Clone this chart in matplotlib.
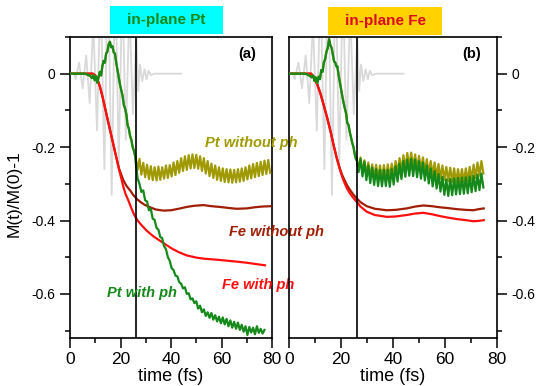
import numpy as np
import matplotlib
matplotlib.use("Agg")
import matplotlib.pyplot as plt
from matplotlib.patches import Rectangle
from matplotlib.ticker import MultipleLocator

plt.rcParams["font.family"] = ["Liberation Sans", "DejaVu Sans"]
plt.rcParams["axes.unicode_minus"] = False

OLIVE = "#a09a00"
GREEN = "#15891a"
BROWN = "#a11e05"
RED = "#ff1010"
GRAY = "#d9d9d9"

T_PULSE_OFF = 26.0  # vertical marker (fs)

# laser pulse, read extremum by extremum
PULSE_T = [0, 1.5, 2.2, 3.6, 5.0, 6.4, 7.8, 9.2, 10.7, 12.1, 13.6, 15.0, 16.5, 17.9,
           19.3, 20.7, 22.1, 23.5, 24.9, 26.3, 27.0, 27.7, 28.6, 29.5, 30.3, 31.1,
           32.0, 33.5, 44.0]
PULSE_V = [0, 0, -0.015, 0.03, -0.04, 0.05, -0.08, 0.14, -0.155, 0.25, -0.26, 0.32,
           -0.33, 0.30, -0.25, 0.25, -0.18, 0.18, -0.11, 0.10, -0.047, 0.025, -0.02,
           0.012, -0.015, 0.008, -0.004, 0, 0]

# ---- panel (a): in-plane Pt ----
A_PT_EARLY_T = [0, 4, 6, 7, 8, 8.7, 9.3, 9.8, 10.3, 10.8, 11.3, 11.8, 12.3, 12.8, 13.3,
                13.8, 14.3, 14.8, 15.3, 15.8, 16.3, 16.8, 17.3, 17.8, 18.3, 18.8, 19.3,
                19.8, 20.3, 20.8, 21.3, 21.8, 22.3, 22.8, 23.3, 23.8, 24.3, 24.8, 25.3,
                25.8]
A_PT_EARLY_V = [0, 0, 0, -0.003, -0.006, -0.012, -0.004, -0.018, -0.008, -0.025, -0.01,
                0.005, -0.005, 0.02, 0.035, 0.03, 0.055, 0.06, 0.08, 0.087, 0.072, 0.075,
                0.058, 0.055, 0.03, 0.01, -0.01, -0.03, -0.045, -0.06, -0.085, -0.095,
                -0.11, -0.14, -0.15, -0.17, -0.18, -0.2, -0.21, -0.225]

DT = 0.75  # sampling step of the noisy tails (fs)
A_PT_NOPH = [-0.230, -0.262, -0.232, -0.275, -0.243, -0.282, -0.248, -0.287, -0.252,
             -0.290, -0.255, -0.291, -0.253, -0.289, -0.255, -0.286, -0.250, -0.284,
             -0.249, -0.280, -0.242, -0.276, -0.238, -0.270, -0.230, -0.265, -0.225,
             -0.262, -0.222, -0.258, -0.220, -0.257, -0.221, -0.259, -0.225, -0.265,
             -0.230, -0.272, -0.238, -0.279, -0.245, -0.284, -0.250, -0.289, -0.255,
             -0.292, -0.258, -0.295, -0.260, -0.296, -0.261, -0.297, -0.262, -0.296,
             -0.260, -0.294, -0.258, -0.292, -0.255, -0.288, -0.250, -0.285, -0.246,
             -0.282, -0.243, -0.279, -0.240, -0.276, -0.237, -0.273, -0.235, -0.270]
A_PT_PH = [-0.240, -0.285, -0.300, -0.322, -0.318, -0.345, -0.348, -0.372, -0.368,
           -0.395, -0.398, -0.420, -0.425, -0.445, -0.448, -0.470, -0.478, -0.500,
           -0.510, -0.530, -0.535, -0.550, -0.552, -0.568, -0.572, -0.585, -0.582,
           -0.600, -0.598, -0.615, -0.612, -0.625, -0.620, -0.640, -0.632, -0.650,
           -0.642, -0.660, -0.650, -0.665, -0.652, -0.670, -0.658, -0.675, -0.662,
           -0.680, -0.664, -0.683, -0.668, -0.688, -0.672, -0.692, -0.676, -0.695,
           -0.678, -0.698, -0.684, -0.703, -0.688, -0.712, -0.690, -0.705, -0.692,
           -0.710, -0.688, -0.706, -0.695, -0.708, -0.698]

A_FE_NOPH_T = [0, 9, 10.2, 11.0, 11.8, 12.7, 13.7, 15.4, 17.0, 18.5, 19.4, 20.3, 21.1,
               22.3, 23.8, 25.0, 26.4, 28.0, 29.5, 31.7, 34.0, 37.0, 40.0, 43.0, 46.2,
               49.0, 52.8, 56.0, 59.4, 63.0, 66.0, 70.0, 73.0, 76.0, 79.3]
A_FE_NOPH_V = [0, 0, -0.006, -0.018, -0.034, -0.058, -0.088, -0.14, -0.188, -0.233,
               -0.258, -0.275, -0.29, -0.305, -0.318, -0.33, -0.341, -0.35, -0.357,
               -0.364, -0.37, -0.373, -0.372, -0.368, -0.363, -0.36, -0.358, -0.361,
               -0.363, -0.366, -0.368, -0.367, -0.364, -0.362, -0.361]
A_FE_PH_T = [0, 9, 10.2, 11.0, 11.8, 12.7, 13.7, 15.4, 17.0, 18.5, 19.4, 20.3, 21.1,
             22.0, 23.1, 24.2, 25.5, 27.0, 28.5, 30.4, 33.0, 35.6, 38.0, 40.5, 43.0,
             46.2, 50.0, 53.0, 56.8, 60.0, 63.0, 66.0, 70.0, 73.0, 77.2]
A_FE_PH_V = [0, 0, -0.006, -0.018, -0.034, -0.058, -0.088, -0.14, -0.188, -0.233,
             -0.261, -0.285, -0.308, -0.328, -0.345, -0.365, -0.386, -0.402, -0.414,
             -0.428, -0.443, -0.455, -0.466, -0.477, -0.486, -0.495, -0.501, -0.504,
             -0.506, -0.508, -0.51, -0.512, -0.515, -0.518, -0.522]

# ---- panel (b): in-plane Fe ----
B_PT_EARLY_T = [0, 4, 6, 7, 8, 8.7, 9.3, 9.8, 10.3, 10.9, 11.4, 11.9, 12.4, 12.9, 13.4,
                13.9, 14.4, 14.9, 15.4, 15.9, 16.4, 16.9, 17.3, 17.8, 18.2, 18.6, 19.1,
                19.6, 20.1, 20.5, 21.0, 21.5, 22.0, 22.4, 22.9, 23.4, 23.9, 24.3, 24.8,
                25.3, 25.8]
B_PT_EARLY_V = [0, 0, 0, -0.002, -0.006, -0.01, -0.005, -0.02, -0.01, -0.025, -0.008,
                -0.015, 0.01, 0.005, 0.03, 0.04, 0.06, 0.07, 0.094, 0.078, 0.07, 0.05,
                0.034, 0.03, 0.02, 0.02, -0.005, -0.025, -0.045, -0.061, -0.08, -0.095,
                -0.11, -0.134, -0.14, -0.16, -0.175, -0.188, -0.2, -0.22, -0.234]
B_PT_NOPH = [-0.228, -0.262, -0.228, -0.270, -0.236, -0.276, -0.242, -0.282, -0.247,
             -0.285, -0.248, -0.287, -0.250, -0.286, -0.249, -0.286, -0.247, -0.284,
             -0.245, -0.280, -0.238, -0.272, -0.230, -0.266, -0.222, -0.260, -0.216,
             -0.254, -0.215, -0.256, -0.220, -0.260, -0.224, -0.264, -0.228, -0.268,
             -0.233, -0.274, -0.238, -0.277, -0.242, -0.282, -0.246, -0.286, -0.250,
             -0.290, -0.254, -0.293, -0.256, -0.295, -0.258, -0.297, -0.260, -0.298,
             -0.260, -0.296, -0.258, -0.294, -0.254, -0.290, -0.248, -0.284, -0.242,
             -0.278, -0.238, -0.272]
B_PT_PH = [-0.232, -0.268, -0.232, -0.280, -0.240, -0.290, -0.250, -0.298, -0.256,
           -0.303, -0.260, -0.306, -0.262, -0.307, -0.262, -0.306, -0.262, -0.308,
           -0.260, -0.302, -0.252, -0.294, -0.245, -0.287, -0.238, -0.281, -0.234,
           -0.278, -0.232, -0.279, -0.234, -0.282, -0.238, -0.286, -0.242, -0.291,
           -0.250, -0.299, -0.258, -0.307, -0.265, -0.313, -0.273, -0.321, -0.281,
           -0.330, -0.288, -0.333, -0.287, -0.331, -0.285, -0.329, -0.284, -0.328,
           -0.283, -0.327, -0.282, -0.326, -0.280, -0.323, -0.278, -0.320, -0.275,
           -0.317, -0.272, -0.310]

B_FE_NOPH_T = [0, 8.5, 9.8, 10.9, 12.0, 13.2, 14.6, 16.0, 17.2, 18.3, 19.4, 20.5,
               21.5, 22.4, 23.6, 24.7, 25.8, 27.5, 29.9, 33.0, 37.6, 41.0, 45.3, 48.5,
               51.7, 55.0, 58.1, 61.0, 64.5, 68.0, 70.9, 73.0, 74.9]
B_FE_NOPH_V = [0, 0, -0.012, -0.03, -0.052, -0.082, -0.118, -0.158, -0.196,
               -0.228, -0.255, -0.277, -0.292, -0.305, -0.318, -0.329, -0.338, -0.35,
               -0.361, -0.368, -0.372, -0.371, -0.367, -0.362, -0.359, -0.361, -0.364,
               -0.366, -0.369, -0.371, -0.372, -0.369, -0.367]
B_FE_PH_T = [0, 8.5, 9.8, 10.9, 12.0, 13.2, 14.6, 16.0, 17.2, 18.3, 19.4, 20.5,
             21.5, 22.4, 23.6, 24.7, 25.8, 27.5, 29.9, 33.0, 37.6, 41.0, 45.3, 48.5,
             51.7, 55.0, 58.1, 61.0, 64.5, 68.0, 70.9, 73.0, 74.9]
B_FE_PH_V = [0, 0, -0.012, -0.03, -0.052, -0.082, -0.118, -0.158, -0.196,
             -0.228, -0.257, -0.282, -0.3, -0.314, -0.328, -0.338, -0.347, -0.362,
             -0.376, -0.385, -0.39, -0.389, -0.385, -0.381, -0.379, -0.383, -0.388,
             -0.392, -0.396, -0.399, -0.402, -0.401, -0.399]

PANEL_TITLES = ["in-plane Pt", "in-plane Fe"]
PANEL_LETTERS = ["(a)", "(b)"]
CURVE_LABELS = ["Pt without ph", "Fe without ph", "Fe with ph", "Pt with ph"]
YTICKS = [0, -0.2, -0.4, -0.6]
YTICK_LABELS = ["0", "-0.2", "-0.4", "-0.6"]


def tail_times(values):
    return T_PULSE_OFF + DT * np.arange(len(values))


def draw_panel(ax, pt_early_t, pt_early_v, pt_noph, pt_ph, fe_noph, fe_ph):
    ax.plot(PULSE_T, PULSE_V, color=GRAY, lw=1.3, zorder=1)
    ax.plot(fe_noph[0], fe_noph[1], color=BROWN, lw=1.6, zorder=3)
    ax.plot(fe_ph[0], fe_ph[1], color=RED, lw=1.6, zorder=3)
    t_tail = tail_times(pt_noph)
    ax.plot(list(pt_early_t) + list(t_tail), list(pt_early_v) + list(pt_noph),
            color=OLIVE, lw=1.6, zorder=4)
    t_tail = tail_times(pt_ph)
    ax.plot(list(pt_early_t) + list(t_tail), list(pt_early_v) + list(pt_ph),
            color=GREEN, lw=1.6, zorder=5)
    ax.axvline(T_PULSE_OFF, color="black", lw=1.2, zorder=6)

    ax.set_xlim(0, 80)
    ax.set_ylim(-0.72, 0.10)
    ax.set_xticks([0, 20, 40, 60, 80])
    ax.xaxis.set_minor_locator(MultipleLocator(10))
    ax.set_yticks(YTICKS, YTICK_LABELS)
    ax.yaxis.set_minor_locator(MultipleLocator(0.1))
    for sp in ax.spines.values():
        sp.set_linewidth(1.2)
    ax.tick_params(which="major", direction="out", length=7, width=1.1)
    ax.tick_params(which="minor", direction="out", length=3.5, width=1.1)
    ax.tick_params(axis="x", labelsize=12.5, pad=3)
    ax.tick_params(axis="y", labelsize=10)
    ax.set_xlabel("time (fs)", fontsize=13, labelpad=1)


fig = plt.figure(figsize=(5.39, 3.86), dpi=100)
ax_a = fig.add_axes([0.1299, 0.1244, 0.3748, 0.7798])
ax_b = fig.add_axes([0.5362, 0.1244, 0.3859, 0.7798])
ax_b.set_facecolor("none")

draw_panel(ax_a, A_PT_EARLY_T, A_PT_EARLY_V, A_PT_NOPH, A_PT_PH,
           (A_FE_NOPH_T, A_FE_NOPH_V), (A_FE_PH_T, A_FE_PH_V))
draw_panel(ax_b, B_PT_EARLY_T, B_PT_EARLY_V, B_PT_NOPH, B_PT_PH,
           (B_FE_NOPH_T, B_FE_NOPH_V), (B_FE_PH_T, B_FE_PH_V))

ax_a.tick_params(axis="y", which="both", left=True, right=False,
                 labelleft=True, labelright=False)
ax_b.tick_params(axis="y", which="both", left=False, right=True,
                 labelleft=False, labelright=True)
ax_a.set_ylabel("M(t)/M(0)-1", fontsize=12.5)
ax_a.yaxis.set_label_coords(-0.24, 0.48)

# curve labels (panel a, spilling into the gap)
lab_kw = dict(fontsize=10.5, fontweight="bold", style="italic", clip_on=False,
              va="center", ha="left", zorder=7)
ax_a.text(53.5, -0.190, CURVE_LABELS[0], color=OLIVE, **lab_kw)
ax_a.text(63.0, -0.432, CURVE_LABELS[1], color=BROWN, **lab_kw)
ax_a.text(60.2, -0.577, CURVE_LABELS[2], color=RED, **lab_kw)
ax_a.text(14.7, -0.597, CURVE_LABELS[3], color=GREEN, **lab_kw)

for ax, letter in zip([ax_a, ax_b], PANEL_LETTERS):
    ax.text(0.876, 0.945, letter, transform=ax.transAxes, fontsize=10.5,
            fontweight="bold", ha="center", va="center")

# title boxes above the panels
boxes = [((0.2041, 0.9111), 0.2096, 0.0741, "#00ffff", GREEN),
         ((0.6091, 0.9093), 0.2104, 0.0733, "#ffd200", "#dd0a1e")]
for (xy, w, h, face, tcolor), title in zip(boxes, PANEL_TITLES):
    fig.patches.append(Rectangle(xy, w, h, transform=fig.transFigure,
                                 facecolor=face, edgecolor="none"))
    fig.text(xy[0] + w / 2, xy[1] + h / 2, title, color=tcolor, fontsize=11,
             fontweight="bold", ha="center", va="center")

fig.savefig("out.png", dpi=100)
